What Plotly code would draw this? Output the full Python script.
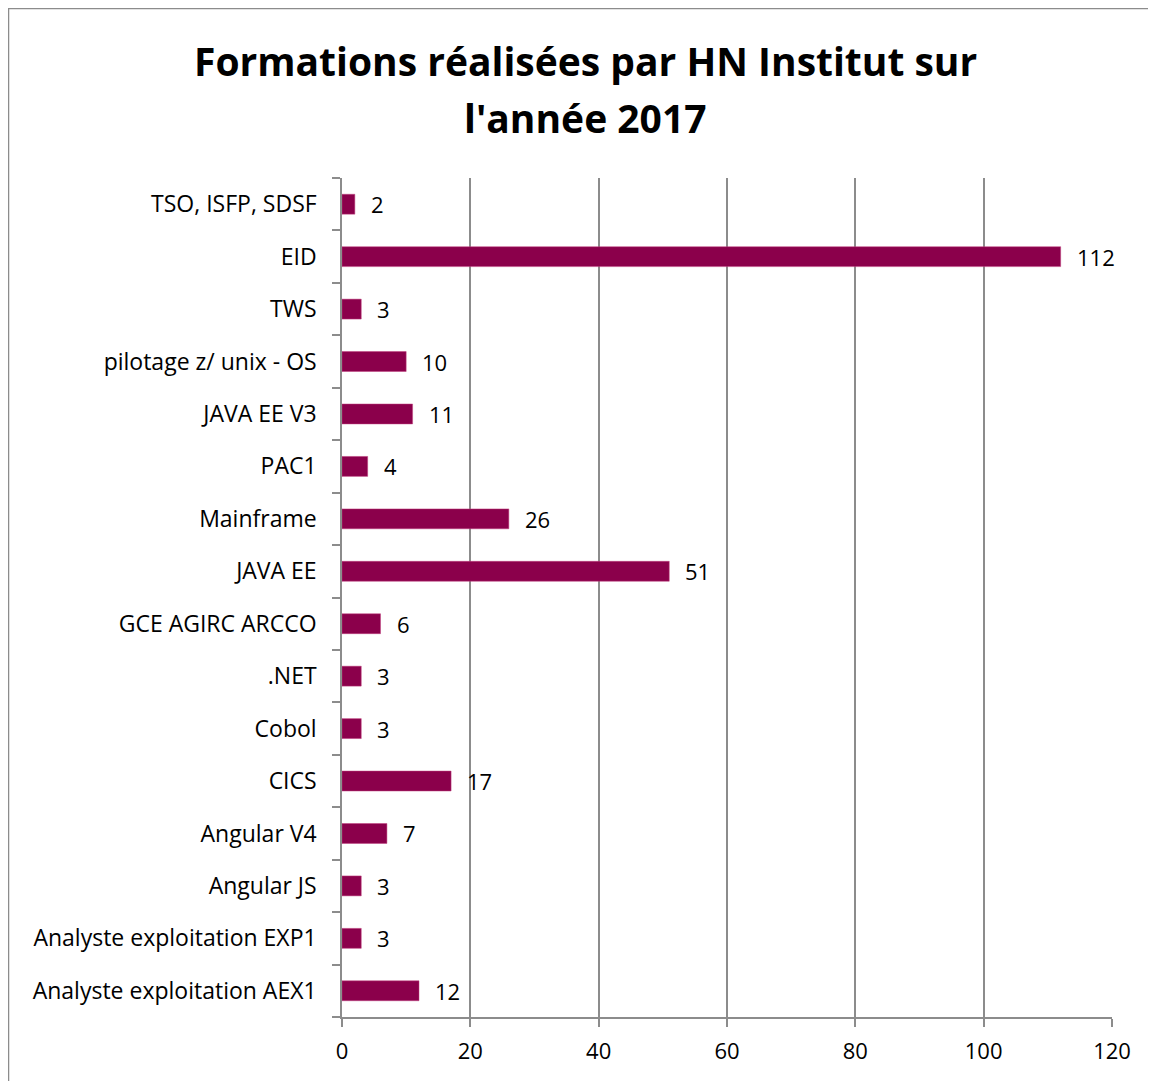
import plotly.graph_objects as go

# categories listed from bottom to top
formations = [
    "Analyste exploitation AEX1",
    "Analyste exploitation EXP1",
    "Angular JS",
    "Angular V4",
    "CICS",
    "Cobol",
    ".NET",
    "GCE AGIRC ARCCO",
    "JAVA EE",
    "Mainframe",
    "PAC1",
    "JAVA EE V3",
    "pilotage z/ unix - OS",
    "TWS",
    "EID",
    "TSO, ISFP, SDSF",
]
nb_sessions = [12, 3, 3, 7, 17, 3, 3, 6, 51, 26, 4, 11, 10, 3, 112, 2]
x_ticks = [0, 20, 40, 60, 80, 100, 120]
title_lines = ["Formations réalisées par HN Institut sur", "l'année 2017"]

bar_color = "#8B004B"
grid_color = "#8C8C8C"
font_family = "'Open Sans', sans-serif"

fig = go.Figure()
fig.add_trace(go.Bar(
    y=formations,
    x=nb_sessions,
    orientation="h",
    marker=dict(color=bar_color, line=dict(color="#C0407F", width=0.5)),
    width=0.38,
    hoverinfo="x+y",
))

# data labels, placed just right of each bar end
for cat, val in zip(formations, nb_sessions):
    fig.add_annotation(
        x=val, y=cat, text=str(val),
        xanchor="left", yanchor="middle",
        xshift=14, showarrow=False,
        font=dict(size=22, color="black", family=font_family),
    )

# title as two lines (wider line spacing than plotly's default)
for line, ypos in zip(title_lines, [1.1406, 1.0727]):
    fig.add_annotation(
        x=0.3156, y=ypos, xref="paper", yref="paper",
        text="<b>" + line + "</b>", showarrow=False,
        xanchor="center", yanchor="middle",
        font=dict(size=39, family=font_family, color="black"),
    )

# outer chart border
fig.add_shape(
    type="rect", xref="paper", yref="paper",
    x0=-0.4331, x1=1.0597, y0=-0.0822, y1=1.2020,
    line=dict(color="#8C8C8C", width=1.5),
    layer="below",
)

fig.update_layout(
    width=1156,
    height=1081,
    margin=dict(l=334, r=52, t=170, b=72),
    plot_bgcolor="white",
    paper_bgcolor="white",
    showlegend=False,
    font=dict(family=font_family, size=22, color="black"),
    xaxis=dict(
        range=[0, 120],
        tickvals=x_ticks,
        showgrid=True, gridcolor=grid_color, gridwidth=1.5,
        zeroline=False,
        showline=True, linecolor=grid_color, linewidth=1.5,
        ticks="outside", ticklen=8, tickcolor=grid_color, tickwidth=1.5,
        ticklabelstandoff=6,
        tickfont=dict(size=22),
    ),
    yaxis=dict(
        categoryorder="array", categoryarray=formations,
        showgrid=False,
        showline=True, linecolor=grid_color, linewidth=1.5,
        ticks="outside", tickson="boundaries", ticklen=8,
        tickcolor=grid_color, tickwidth=1.5,
        ticklabelstandoff=19,
        tickfont=dict(size=23),
    ),
)

fig.write_html("out.html")
